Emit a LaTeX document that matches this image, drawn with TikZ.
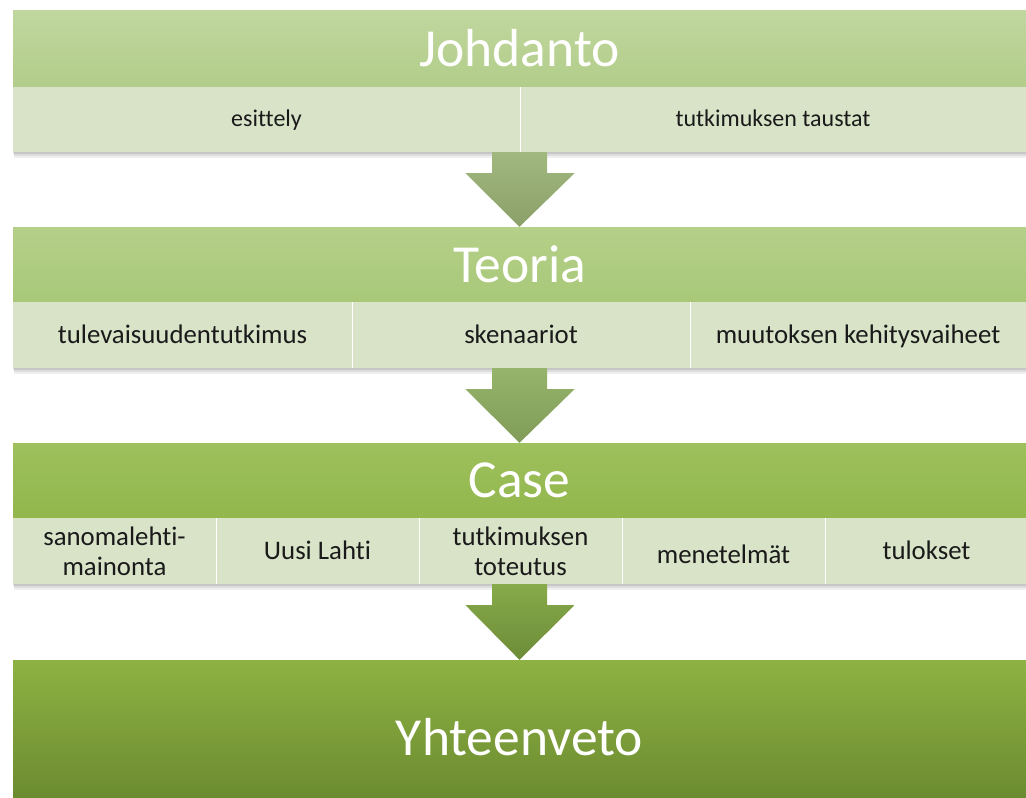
\documentclass[tikz,border=0pt]{standalone}
\usepackage{fontspec}
\setmainfont{Carlito}[Ligatures={NoCommon}]
\usetikzlibrary{calc}
\definecolor{subfill}{HTML}{D8E3C8}
\definecolor{txt}{HTML}{1A1A1A}
\begin{document}
\begin{tikzpicture}[x=1pt,y=-1pt,
  header/.style={rectangle,inner sep=0pt,minimum width=1013pt,minimum height=#1,text=white,
    font=\fontsize{53.5}{60}\selectfont},
  subrow/.style={rectangle,inner sep=0pt,minimum width=1013pt,minimum height=65pt,fill=subfill},
  celltext/.style={inner sep=0pt,align=center,text=txt},
  smalltext/.style={celltext,text height=17pt,text depth=6pt,font=\fontsize{24}{29}\selectfont},
  bigtext/.style={celltext,text height=19pt,text depth=6.5pt,font=\fontsize{26.8}{29.5}\selectfont},
  twoline/.style={celltext,font=\fontsize{26.8}{29.5}\selectfont},
  divider/.style={draw=white,line width=0.8pt},
  shadowlayer/.style={fill=black,opacity=#1}
]
\useasboundingbox (0,0) rectangle (1026,798);
\fill[white] (0,0) rectangle (1026,798);

% soft shadows
\foreach \ya/\yb in {10/152,227/368,443/584}{
  \fill[shadowlayer=0.06] (14,\ya+2) rectangle (1026,\yb+6);
  \fill[shadowlayer=0.08] (13.5,\ya+1) rectangle (1026,\yb+4);
  \fill[shadowlayer=0.10] (13,\ya) rectangle (1026,\yb+2);
}
\fill[shadowlayer=0.08] (14,661) rectangle (1026,798);

% ---------- Box 1 ----------
\node[header=77pt, top color={rgb,255:red,192;green,215;blue,158}, bottom color={rgb,255:red,178;green,205;blue,138}]
  (h1) at (519.5,48.5) {Johdanto};
\node[subrow] (r1) at (519.5,119.5) {};
\draw[divider] (520,87) -- (520,152);
\node[smalltext] (c11) at (266.5,121) {esittely};
\node[smalltext] (c12) at (773,121) {tutkimuksen taustat};

% ---------- Box 2 ----------
\node[header=75pt, top color={rgb,255:red,181;green,208;blue,137}, bottom color={rgb,255:red,168;green,200;blue,120}]
  (h2) at (519.5,264.5) {Teoria};
\node[subrow, minimum height=66pt] (r2) at (519.5,335) {};
\draw[divider] (352,302) -- (352,368);
\draw[divider] (690,302) -- (690,368);
\node[bigtext] (c21) at (182.5,337) {tulevaisuudentutkimus};
\node[bigtext] (c22) at (521,337) {skenaariot};
\node[bigtext] (c23) at (858,337) {muutoksen kehitysvaiheet};

% ---------- Box 3 ----------
\node[header=75pt, top color={rgb,255:red,158;green,192;blue,93}, bottom color={rgb,255:red,146;green,183;blue,76}]
  (h3) at (519.5,480.5) {Case};
\node[subrow, minimum height=66pt] (r3) at (519.5,551) {};
\foreach \xd in {216,419,622,825}{\draw[divider] (\xd,518) -- (\xd,584);}
\node[twoline] (c31) at (114.5,551.5) {sanomalehti-\\mainonta};
\node[bigtext] (c32) at (317.5,553) {Uusi Lahti};
\node[twoline] (c33) at (520.5,551.5) {tutkimuksen\\toteutus};
\node[bigtext] (c34) at (723.5,557) {menetelmät};
\node[bigtext] (c35) at (926.5,553) {tulokset};

% ---------- Box 4 ----------
\node[header=138pt, top color={rgb,255:red,142;green,178;blue,66}, bottom color={rgb,255:red,108;green,139;blue,49}]
  (h4) at (519.5,729) {};
\node[text=white,inner sep=0pt,font=\fontsize{53.5}{60}\selectfont] (t4) at (519.5,737) {Yhteenveto};

% ---------- Arrows ----------
\newcommand{\blockarrow}[4]{%
  \shade[top color=#3, bottom color=#4]
    ($(#1.south)+(-27.5,0)$) -- ($(#1.south)+(27.5,0)$) -- ($(#1.south)+(27.5,21)$)
    -- ($(#1.south)+(55,21)$) -- ($(#2.north)+(0,0)$) -- ($(#1.south)+(-54,21)$)
    -- ($(#1.south)+(-27.5,21)$) -- cycle;}
\blockarrow{r1}{h2}{{rgb,255:red,161;green,184;blue,127}}{{rgb,255:red,138;green,160;blue,104}}
\blockarrow{r2}{h3}{{rgb,255:red,150;green,180;blue,108}}{{rgb,255:red,128;green,156;blue,88}}
\blockarrow{r3}{h4}{{rgb,255:red,135;green,170;blue,74}}{{rgb,255:red,108;green,140;blue,56}}
\end{tikzpicture}
\end{document}
